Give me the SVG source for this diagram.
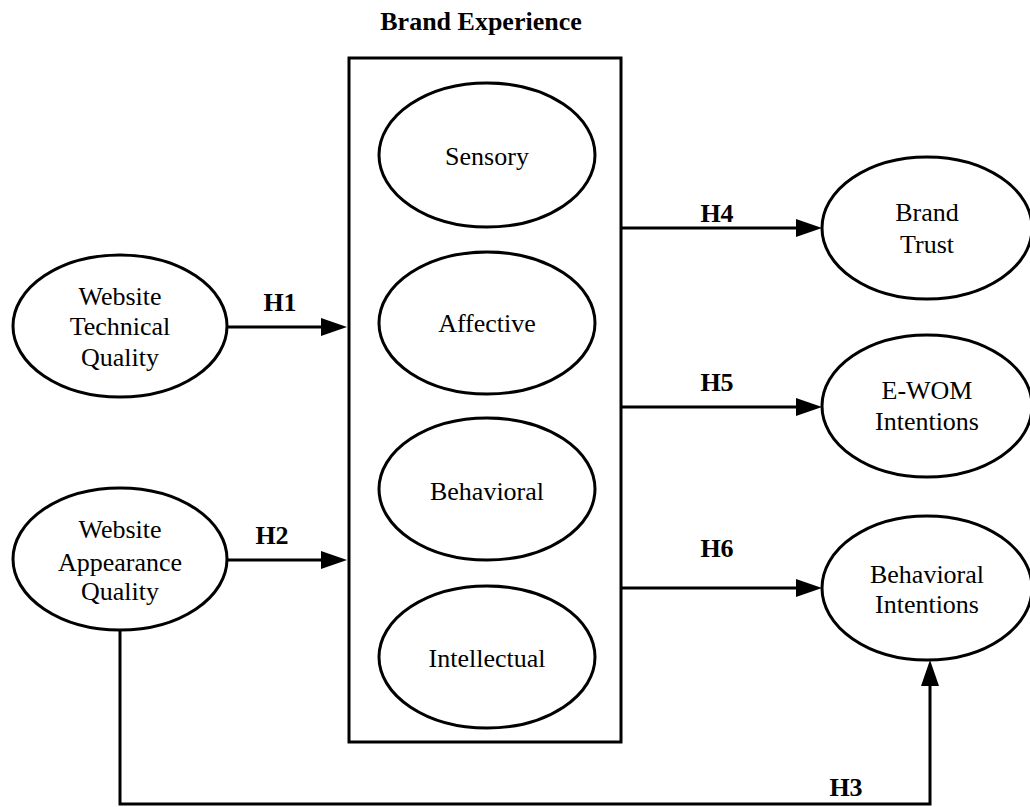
<svg xmlns="http://www.w3.org/2000/svg" width="1030" height="807" viewBox="0 0 1030 807">
<style>
.sh{fill:#fff;stroke:#000;stroke-width:3}
.t{font-family:"Liberation Serif","Times New Roman",serif;font-size:26px;fill:#000;text-anchor:middle}
.b{font-weight:bold}
.c{fill:none;stroke:#000;stroke-width:3}
</style>
<defs>
<marker id="ah" viewBox="0 0 26 18" refX="13" refY="9" markerWidth="26" markerHeight="18" markerUnits="userSpaceOnUse" orient="auto">
<path d="M0,0 L26,9 L0,18 z" fill="#000"/>
</marker>
</defs>
<rect width="1030" height="807" fill="#fff"/>
<text class="t b" x="481" y="30">Brand Experience</text>
<g id="brand-experience">
<rect class="sh" x="349" y="58" width="272" height="684"/>
</g>
<g id="sensory"><ellipse class="sh" cx="487" cy="155" rx="108" ry="72"/><text class="t" x="487" y="165">Sensory</text></g>
<g id="affective"><ellipse class="sh" cx="487" cy="323" rx="108" ry="71"/><text class="t" x="487" y="332">Affective</text></g>
<g id="behavioral"><ellipse class="sh" cx="487" cy="489" rx="108" ry="71"/><text class="t" x="487" y="500">Behavioral</text></g>
<g id="intellectual"><ellipse class="sh" cx="487" cy="657" rx="108" ry="71"/><text class="t" x="487" y="667">Intellectual</text></g>
<g id="website-technical"><ellipse class="sh" cx="120" cy="326" rx="107" ry="71"/>
<text class="t" x="120" y="305">Website</text><text class="t" x="120" y="335">Technical</text><text class="t" x="120" y="366">Quality</text></g>
<g id="website-appearance"><ellipse class="sh" cx="120" cy="559" rx="107" ry="71"/>
<text class="t" x="120" y="538">Website</text><text class="t" x="120" y="571">Appearance</text><text class="t" x="120" y="600">Quality</text></g>
<g id="brand-trust"><ellipse class="sh" cx="927" cy="228" rx="105" ry="71"/>
<text class="t" x="927" y="221">Brand</text><text class="t" x="927" y="253">Trust</text></g>
<g id="ewom"><ellipse class="sh" cx="927" cy="406" rx="105" ry="71"/>
<text class="t" x="927" y="399">E-WOM</text><text class="t" x="927" y="430">Intentions</text></g>
<g id="behavioral-intentions"><ellipse class="sh" cx="927" cy="588" rx="105" ry="72"/>
<text class="t" x="927" y="583">Behavioral</text><text class="t" x="927" y="613">Intentions</text></g>
<g id="connectors">
<line class="c" x1="227" y1="327" x2="334" y2="327" marker-end="url(#ah)"/>
<line class="c" x1="227" y1="560" x2="334" y2="560" marker-end="url(#ah)"/>
<line class="c" x1="621" y1="228" x2="809" y2="228" marker-end="url(#ah)"/>
<line class="c" x1="621" y1="407" x2="809" y2="407" marker-end="url(#ah)"/>
<line class="c" x1="621" y1="588" x2="809" y2="588" marker-end="url(#ah)"/>
<polyline class="c" points="120,630 120,804 930,804 930,673" marker-end="url(#ah)"/>
<text class="t b" x="280" y="311">H1</text>
<text class="t b" x="272" y="544">H2</text>
<text class="t b" x="717" y="222">H4</text>
<text class="t b" x="717" y="391">H5</text>
<text class="t b" x="717" y="557">H6</text>
<text class="t b" x="846" y="796">H3</text>
</g>
</svg>
